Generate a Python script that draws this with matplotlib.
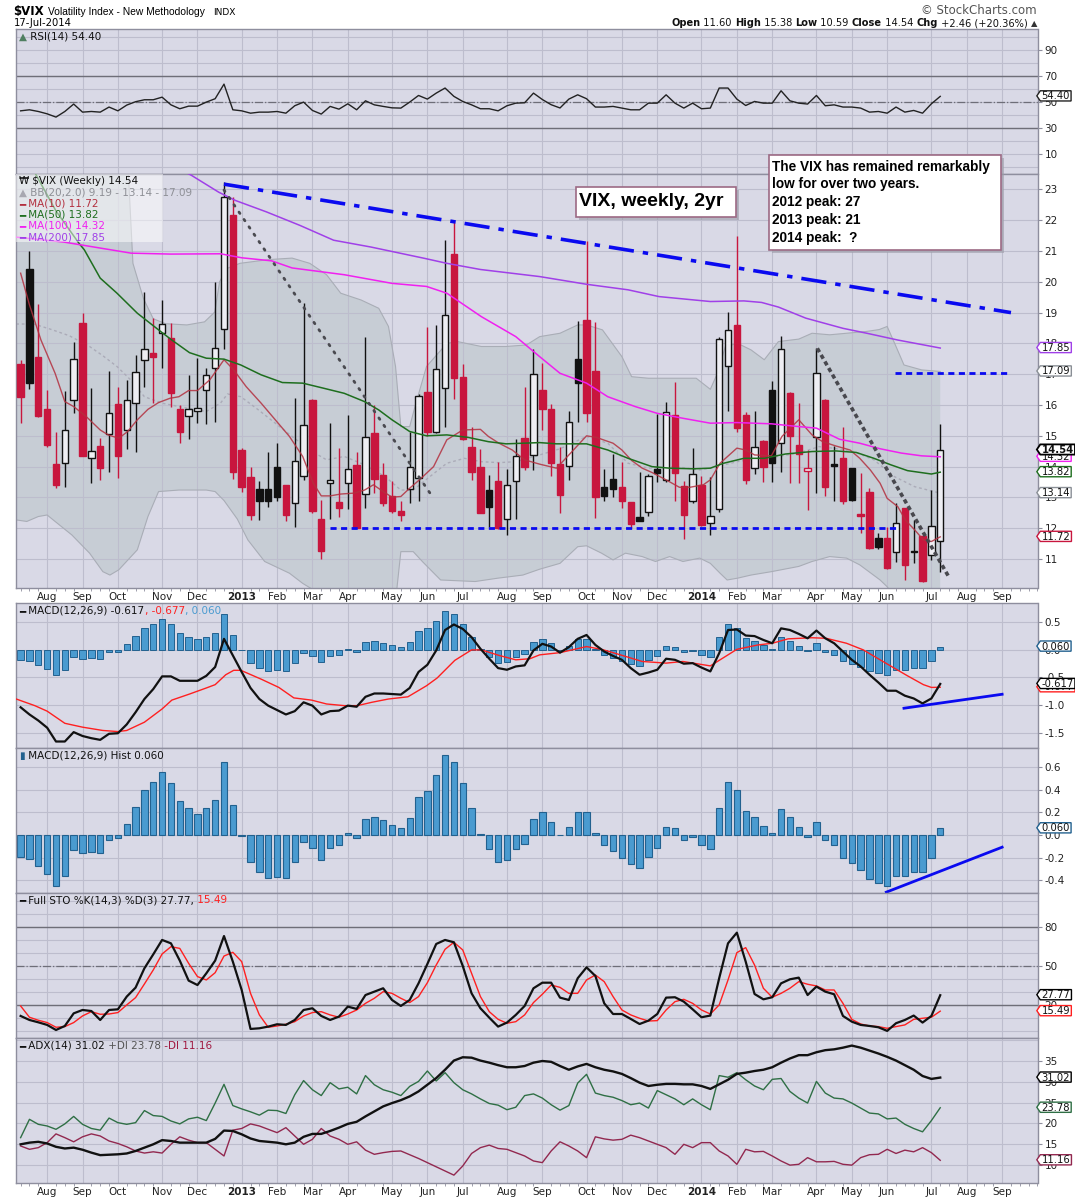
import numpy as np
import pandas as pd
import matplotlib
matplotlib.use("Agg")
import matplotlib.pyplot as plt
from matplotlib.patches import Rectangle
from matplotlib.path import Path

plt.rcParams["font.family"] = ["DejaVu Sans"]
plt.rcParams["axes.unicode_minus"] = False

# weekly bars dated by monday, first visible bar = week of 16-Jul-2012
first_week = "2012-07-16"
axis_weeks = 116

vix_open = [17.32, 20.42, 17.55, 15.86, 14.08, 14.11, 16.15, 18.66, 14.27, 14.66,
            15.06, 16.04, 15.18, 16.05, 17.47, 17.68, 18.33, 18.17, 15.86, 15.65,
            15.80, 16.48, 17.19, 18.46, 22.16, 14.54, 13.66, 13.28, 13.28, 13.99,
            13.39, 12.81, 13.68, 16.17, 12.30, 13.46, 12.84, 13.46, 14.06, 13.10,
            15.10, 13.73, 13.05, 12.56, 13.27, 13.62, 16.42, 15.14, 16.55, 20.91,
            16.90, 14.65, 13.98, 13.24, 13.54, 12.29, 13.54, 14.92, 14.38, 16.49,
            15.86, 14.08, 14.02, 17.50, 18.76, 17.11, 13.33, 13.61, 13.33, 12.84,
            12.38, 12.54, 13.92, 13.57, 15.66, 13.37, 12.87, 13.41, 12.16, 12.62,
            17.28, 18.60, 15.66, 13.95, 14.84, 16.49, 14.76, 16.40, 14.71, 13.87,
            14.95, 16.17, 14.08, 14.27, 13.95, 12.45, 13.17, 11.68, 11.68, 11.22,
            12.65, 11.27, 11.75, 11.13, 11.60]
vix_high = [17.47, 21.00, 19.28, 16.49, 15.14, 16.46, 18.05, 19.00, 16.56, 14.92,
            17.12, 16.58, 16.82, 17.62, 19.66, 18.84, 19.41, 18.66, 16.00, 16.98,
            17.52, 17.19, 19.98, 23.24, 22.75, 14.60, 14.00, 13.52, 14.46, 14.78,
            13.41, 16.24, 19.31, 16.20, 12.92, 15.41, 14.60, 15.66, 14.49, 18.20,
            16.00, 14.11, 13.54, 12.87, 15.14, 16.36, 18.53, 18.60, 21.35, 21.94,
            17.34, 15.30, 14.58, 13.73, 14.14, 13.93, 14.90, 16.57, 17.82, 17.36,
            16.04, 14.65, 15.81, 18.73, 21.34, 18.71, 13.92, 14.41, 14.14, 12.86,
            13.81, 13.76, 15.71, 16.09, 16.74, 13.54, 14.60, 13.68, 13.66, 18.20,
            19.03, 21.48, 15.77, 15.81, 14.86, 16.78, 18.24, 16.42, 16.06, 14.54,
            17.84, 16.20, 14.67, 15.30, 13.97, 13.79, 13.30, 11.86, 12.05, 12.81,
            12.67, 12.27, 11.77, 13.24, 15.38]
vix_low = [15.43, 16.51, 15.60, 14.65, 13.30, 13.35, 15.73, 14.33, 13.48, 13.57,
           13.84, 13.64, 14.58, 14.49, 16.60, 16.06, 17.19, 15.95, 14.76, 14.89,
           15.41, 15.39, 15.46, 17.82, 13.59, 13.19, 12.27, 12.27, 12.70, 12.87,
           12.22, 12.05, 13.55, 12.49, 11.00, 12.29, 12.38, 12.62, 12.00, 12.65,
           13.14, 12.73, 12.49, 12.25, 12.83, 12.87, 14.98, 15.08, 15.28, 16.19,
           14.85, 13.57, 12.49, 12.05, 11.98, 11.78, 12.29, 13.89, 13.89, 15.19,
           13.70, 12.51, 13.55, 15.46, 15.46, 12.32, 12.90, 13.03, 12.65, 12.00,
           12.22, 12.40, 13.50, 13.49, 12.87, 11.66, 12.81, 12.08, 11.78, 12.54,
           15.79, 15.11, 13.43, 13.75, 13.49, 13.49, 13.81, 13.46, 13.46, 12.60,
           13.14, 13.05, 12.87, 12.79, 12.87, 11.86, 11.33, 11.33, 10.68, 10.92,
           10.32, 10.86, 10.27, 10.97, 10.59]
vix_close = [16.27, 16.71, 15.63, 14.71, 13.41, 15.18, 17.49, 14.36, 14.50, 13.97,
             15.73, 14.33, 16.16, 17.06, 17.82, 17.57, 18.62, 16.40, 15.14, 15.86,
             15.91, 16.99, 17.84, 22.75, 13.81, 13.35, 12.43, 12.87, 12.88, 13.00,
             12.43, 14.19, 15.35, 12.57, 11.27, 13.57, 12.67, 13.92, 12.02, 14.95,
             13.59, 12.83, 12.57, 12.43, 13.98, 16.30, 15.14, 17.16, 18.92, 16.87,
             14.89, 13.81, 12.51, 12.70, 12.00, 13.41, 14.36, 13.98, 17.00, 15.86,
             14.13, 13.08, 15.46, 16.73, 15.73, 13.03, 13.06, 13.27, 12.87, 12.14,
             12.25, 13.68, 13.79, 15.76, 13.79, 12.43, 13.75, 12.11, 12.41, 18.14,
             18.44, 15.27, 13.55, 14.65, 13.98, 14.11, 17.82, 14.98, 14.40, 13.95,
             17.03, 13.35, 14.02, 12.90, 12.92, 12.41, 11.35, 11.38, 10.70, 12.16,
             10.81, 11.24, 10.29, 12.08, 14.54]

# overlays as (week, value) points
ma10_weeks = [0, 1, 2.3, 3.9, 5, 6, 7.4, 9, 9.9, 11.1, 12.1, 13.2, 14.4, 15.6, 16.9, 17.9, 19, 20, 21.4, 23,
              24.1, 25.5, 27.2, 28.8, 30.4, 31.9, 33.1, 34, 35, 36.2, 37.7, 38.9, 39.9, 41, 42, 43, 44, 45.1,
              46.7, 48.2, 50, 52, 52.9, 54.1, 55.6, 57, 58.7, 60.6, 62.2, 64, 65.1, 67, 68, 69.1, 70.3, 71.4,
              73, 74.5, 75.7, 77.2, 78, 79.1, 81, 82, 83, 84.9, 86.1, 88, 89.5, 90.7, 92.2, 93.8, 94.9, 96.1,
              97.2, 98, 99.2, 100.1, 101.1, 102.1, 103, 104]
ma10_values = [20.28, 19.25, 18.11, 17.03, 16.11, 15.95, 15.63, 15.19, 15.03, 14.92, 15.14, 15.52, 15.86, 16.08,
               16.22, 16.27, 16.47, 16.47, 16.82, 17.47, 17.14, 16.60, 16.06, 15.52, 14.98, 14.33, 13.46, 13.05,
               13.05, 13.11, 13.14, 13.24, 13.41, 13.19, 13.01, 13.03, 13.30, 13.57, 14.00, 14.87, 15.19, 15.21,
               14.98, 14.76, 14.54, 14.22, 14.08, 13.95, 14.44, 15.00, 14.95, 14.76, 14.54, 14.20, 13.95, 13.81,
               13.57, 13.33, 13.33, 13.41, 13.57, 14.11, 14.60, 14.54, 14.38, 14.35, 14.98, 15.52, 15.03, 14.81,
               14.67, 14.54, 14.27, 13.89, 13.46, 12.97, 12.70, 12.25, 11.95, 11.62, 11.57, 11.72]
ma50_weeks = [1.5, 4, 6.6, 7.2, 9, 10.9, 13.2, 15.6, 17.1, 19.1, 21, 23, 24.9, 27.2, 29.6, 31.9, 34.2, 36.6,
              38.9, 40.5, 42, 44, 45.9, 48.2, 50.6, 52.9, 54.9, 58.7, 60.6, 64, 66.4, 68.7, 71.4, 73.4, 76.1,
              78, 79.5, 81.8, 84.1, 86.5, 89.5, 92.2, 94.5, 96.5, 98.4, 100.3, 103, 104]
ma50_values = [23.6, 22.3, 21.25, 21.04, 20.12, 19.63, 18.98, 18.44, 18.11, 17.70, 17.52, 17.49, 17.30, 16.98,
               16.73, 16.71, 16.55, 16.38, 16.11, 15.84, 15.52, 15.14, 15.00, 15.03, 14.95, 14.81, 14.74, 14.78,
               14.74, 14.74, 14.54, 14.27, 14.00, 13.95, 13.93, 13.95, 14.11, 14.27, 14.27, 14.41, 14.49, 14.51,
               14.46, 14.27, 14.06, 13.87, 13.76, 13.82]
ma100_weeks = [-0.5, 4.9, 12.5, 17, 22.6, 25, 28.4, 30.7, 36.6, 42, 45.9, 48.2, 52.1, 56, 58.7, 61, 64, 66.4,
               69.5, 72, 74.9, 78, 81, 84.9, 88, 90, 92.6, 94.9, 97.2, 99.6, 101.9, 104]
ma100_values = [21.45, 21.29, 20.93, 20.9, 20.91, 20.78, 20.68, 20.45, 20.23, 19.95, 19.85, 19.63, 18.87, 18.22,
                17.57, 17.03, 16.71, 16.27, 15.95, 15.73, 15.57, 15.41, 15.43, 15.39, 15.30, 15.25, 14.89, 14.76,
                14.58, 14.44, 14.35, 14.32]
ma200_weeks = [18.0, 19.3, 22.4, 24.3, 27.8, 31.6, 35.4, 39.6, 45.7, 48.2, 52, 58.7, 64, 68.7, 72.2, 78, 81.8,
               83.8, 85.7, 88.8, 93, 95.7, 99.2, 104]
ma200_values = [23.65, 23.46, 22.91, 22.64, 22.27, 21.83, 21.35, 21.13, 20.76, 20.60, 20.40, 20.17, 19.92, 19.74,
                19.52, 19.36, 19.38, 19.33, 19.18, 18.82, 18.49, 18.33, 18.11, 17.85]
bb_up_weeks = [-0.5, 11.8, 12.2, 12.7, 13.9, 15.0, 16.4, 18.8, 20.8, 21.96, 22.5, 23.3, 24.8, 28, 30.7, 32.7,
               34.6, 36.2, 38.5, 40.5, 41.6, 42.4, 43, 44, 44.6, 45.9, 48.2, 49.4, 52.1, 54.9, 57.2, 58.7, 61,
               63, 64, 65.8, 68, 69.1, 71, 76.4, 78, 78.8, 79.7, 81.1, 82.6, 84.1, 85.7, 88, 89.5, 91.5, 93.4,
               95.7, 97.1, 98, 99, 99.9, 101.9, 104]
bb_up_values = [24.6, 24.6, 23.45, 20.6, 19.45, 18.8, 18.64, 18.6, 18.7, 19.02, 20.0, 20.43, 20.6, 20.72, 20.77,
                20.6, 20.23, 19.63, 19.41, 19.14, 18.55, 17.25, 15.3, 15.3, 15.95, 17.25, 18.0, 18.06, 17.9, 17.9,
                17.95, 18.22, 18.33, 18.6, 18.6, 18.44, 17.57, 16.92, 16.87, 16.87, 16.51, 17.03, 17.9, 18.0,
                17.79, 17.47, 18.06, 18.14, 18.33, 18.28, 18.33, 18.39, 18.45, 18.55, 17.9, 17.3, 17.14, 17.09]
bb_lo_weeks = [-0.5, 0.7, 2, 3, 3.9, 5.8, 7.8, 9.3, 10.1, 11.1, 13.2, 14.4, 15.6, 17.9, 21, 22, 23, 24.5, 25.7,
               27.6, 30.4, 31.9, 33.1, 35, 38, 41, 42.5, 43, 44.4, 45.5, 47.5, 51.4, 54, 56.8, 58.7, 61, 63, 64,
               65.7, 67, 68.4, 70.3, 71.8, 73.4, 74.9, 76.8, 78, 79.1, 79.9, 81.1, 82.6, 84.9, 88, 89.5, 91.5,
               93.4, 94.9, 97.2, 98, 99, 101, 104]
bb_lo_values = [12.27, 12.22, 12.38, 12.43, 12.22, 11.78, 11.19, 10.59, 10.48, 10.65, 11.30, 12.38, 13.19, 13.24,
                13.24, 13.19, 12.9, 12.3, 11.62, 10.92, 10.54, 10.21, 10.0, 9.6, 9.4, 9.5, 9.9, 11.24, 11.24,
                10.9, 10.32, 10.27, 10.38, 10.48, 10.67, 10.86, 11.40, 11.43, 11.19, 10.97, 11.19, 11.08, 10.92,
                11.08, 10.92, 11.03, 10.86, 10.54, 10.32, 10.38, 10.48, 10.59, 10.76, 10.92, 11.08, 11.03, 10.81,
                10.32, 10.10, 9.7, 9.4, 9.19]
bb_mid_weeks = [-0.5, 1.5, 3.5, 5.5, 7.8, 9.3, 10.9, 12.5, 14, 16, 17.9, 19.5, 21, 22.6, 23.4, 24.9, 26.9, 28.8,
                30.7, 32.7, 34.6, 36.6, 38.9, 41.2, 43, 44.4, 46.3, 48.2, 50.2, 52.1, 54.1, 56, 58.7, 61, 64,
                66.4, 68.7, 71, 74.1, 76.8, 78.8, 81, 83.4, 85.7, 88, 90.3, 91.9, 94.2, 96.5, 98.8, 101.1, 104]
bb_mid_values = [18.63, 18.63, 18.45, 18.25, 17.9, 17.6, 17.25, 16.8, 16.27, 16.06, 15.95, 15.86, 15.79, 16.06,
                 16.36, 16.27, 15.84, 15.41, 14.98, 14.54, 14.22, 14.33, 14.06, 13.68, 13.24, 13.24, 13.68, 14.11,
                 14.27, 14.16, 14.13, 14.16, 14.38, 14.58, 14.98, 14.76, 14.11, 13.95, 14.0, 13.89, 14.0, 14.16,
                 14.27, 14.33, 14.44, 14.65, 14.60, 14.49, 14.22, 13.68, 13.35, 13.14]
bb_lower_last = 9.19

rsi = [43.3, 44.1, 42.8, 41.0, 38.5, 42.8, 48.5, 42.3, 42.8, 42.3,
       46.2, 43.3, 47.7, 50.3, 51.8, 51.8, 53.8, 47.9, 44.9, 46.9,
       46.9, 50.0, 52.6, 63.8, 44.1, 43.3, 41.5, 42.3, 42.3, 42.8,
       41.5, 47.2, 50.0, 43.6, 40.8, 46.7, 44.6, 48.7, 44.1, 51.0,
       47.9, 46.7, 45.6, 45.4, 50.0, 55.1, 52.3, 56.9, 60.8, 54.4,
       50.5, 47.9, 44.9, 44.9, 43.3, 47.2, 49.2, 49.5, 56.9, 52.0,
       48.0, 45.5, 52.3, 55.6, 52.6, 46.2, 46.2, 46.7, 45.4, 44.1,
       44.1, 49.2, 49.2, 55.6, 49.2, 45.4, 49.2, 44.9, 45.4, 60.8,
       60.8, 52.3, 47.4, 50.5, 49.2, 49.2, 58.7, 51.0, 49.2, 48.5,
       55.1, 47.2, 47.9, 46.2, 46.2, 45.4, 42.3, 42.8, 41.5, 46.2,
       42.3, 43.6, 41.5, 48.7, 54.40]

macd = [-1.04, -1.17, -1.28, -1.41, -1.66, -1.66, -1.49, -1.56, -1.60, -1.63,
        -1.52, -1.51, -1.35, -1.13, -0.89, -0.71, -0.48, -0.48, -0.56, -0.56,
        -0.56, -0.47, -0.31, 0.20, -0.10, -0.40, -0.69, -0.89, -1.01, -1.09,
        -1.17, -1.11, -0.95, -1.01, -1.17, -1.11, -1.10, -1.01, -1.03, -0.85,
        -0.79, -0.79, -0.80, -0.81, -0.69, -0.40, -0.27, -0.01, 0.36, 0.46,
        0.38, 0.23, 0.02, -0.16, -0.33, -0.36, -0.30, -0.28, -0.01, 0.11,
        0.06, -0.05, 0.05, 0.20, 0.27, 0.09, -0.03, -0.11, -0.18, -0.33,
        -0.45, -0.41, -0.36, -0.16, -0.18, -0.25, -0.24, -0.32, -0.39, -0.06,
        0.36, 0.37, 0.26, 0.25, 0.18, 0.12, 0.39, 0.36, 0.29, 0.21,
        0.35, 0.21, 0.12, -0.03, -0.18, -0.30, -0.45, -0.59, -0.74, -0.74,
        -0.83, -0.88, -0.97, -0.88, -0.617]
signal_weeks = [-0.5, 1.6, 3, 5, 7, 9.3, 11, 12, 14, 16, 17.1, 19.1, 21, 22, 23.2, 24.1, 24.9, 27.2, 29.2, 30.9,
                32.9, 34.6, 36.6, 38.1, 39.7, 41.6, 43.8, 45.9, 47.1, 49.1, 51, 52.1, 54.1, 56, 57.6, 58.7, 61,
                64, 65.7, 67.2, 70.3, 73, 74.9, 78, 79.1, 81, 83.4, 85, 86.8, 89.5, 91.1, 93.4, 95.3, 97.2,
                98.8, 100.3, 102.1, 103, 104]
signal_values = [-0.89, -1.01, -1.11, -1.33, -1.40, -1.46, -1.48, -1.46, -1.31, -1.07, -0.91, -0.80, -0.69,
                 -0.63, -0.45, -0.37, -0.37, -0.53, -0.68, -0.87, -0.91, -0.98, -1.01, -1.01, -0.95, -0.89,
                 -0.85, -0.65, -0.51, -0.19, 0.0, 0.0, -0.10, -0.18, -0.16, -0.09, -0.05, 0.06, 0.01, -0.06,
                 -0.21, -0.24, -0.21, -0.29, -0.18, 0.01, 0.09, 0.12, 0.20, 0.22, 0.21, 0.12, 0.0, -0.18,
                 -0.33, -0.47, -0.63, -0.68, -0.677]
macd_hist = [-0.19, -0.21, -0.27, -0.34, -0.45, -0.36, -0.13, -0.16, -0.15, -0.16,
             -0.04, -0.03, 0.10, 0.25, 0.40, 0.47, 0.56, 0.46, 0.30, 0.24,
             0.19, 0.24, 0.31, 0.65, 0.27, -0.005, -0.24, -0.33, -0.38, -0.37,
             -0.38, -0.24, -0.06, -0.11, -0.22, -0.11, -0.09, 0.015, -0.03, 0.14,
             0.16, 0.13, 0.09, 0.06, 0.15, 0.34, 0.39, 0.53, 0.71, 0.65,
             0.46, 0.24, 0.01, -0.12, -0.24, -0.22, -0.12, -0.08, 0.14, 0.20,
             0.12, 0.005, 0.07, 0.20, 0.20, 0.02, -0.09, -0.14, -0.20, -0.26,
             -0.29, -0.19, -0.11, 0.07, 0.06, -0.04, -0.015, -0.09, -0.12, 0.24,
             0.47, 0.40, 0.21, 0.16, 0.08, 0.02, 0.23, 0.16, 0.07, -0.02,
             0.12, -0.04, -0.09, -0.20, -0.25, -0.31, -0.39, -0.42, -0.45, -0.36,
             -0.36, -0.33, -0.33, -0.20, 0.060]

sto_k = [11.8, 8.7, 6.9, 4.9, 1.0, 4.1, 13.8, 16.4, 15.6, 8.7,
         16.4, 16.9, 26.7, 33.6, 48.5, 59.2, 70.3, 67.7, 54.4, 39.0,
         35.6, 44.6, 54.4, 73.3, 53.6, 31.8, 1.8, 2.3, 3.6, 5.4,
         4.9, 8.7, 16.4, 17.7, 11.8, 8.7, 11.3, 19.0, 17.2, 27.9,
         30.5, 33.1, 24.1, 19.5, 24.1, 36.9, 51.8, 67.2, 70.3, 68.5,
         50.3, 29.2, 17.7, 10.5, 3.6, 6.7, 12.6, 19.5, 33.1, 37.4,
         37.4, 25.9, 24.1, 40.8, 49.2, 42.6, 21.5, 13.3, 13.3, 9.5,
         5.6, 8.2, 13.3, 25.9, 26.2, 22.8, 16.9, 10.8, 12.1, 40.8,
         67.7, 75.9, 53.6, 28.7, 24.6, 26.2, 36.9, 40.0, 41.3, 27.9,
         34.4, 30.5, 28.5, 11.8, 7.4, 4.9, 4.1, 3.1, 0.3, 6.2,
         8.7, 12.1, 6.7, 11.8, 27.77]
sto_d = [19.5, 10.8, 8.5, 6.7, 3.1, 3.6, 6.7, 11.8, 15.1, 13.1,
         13.3, 14.4, 20.3, 25.9, 36.4, 47.2, 59.5, 65.1, 63.8, 52.3,
         42.1, 39.5, 45.1, 57.9, 60.8, 53.6, 29.2, 12.6, 3.1, 4.1,
         5.4, 7.4, 11.8, 14.4, 15.1, 12.6, 10.8, 13.3, 16.4, 21.5,
         25.4, 30.5, 29.2, 25.4, 22.1, 26.7, 37.4, 51.0, 63.1, 68.5,
         62.6, 44.6, 26.7, 15.1, 9.2, 6.2, 7.4, 12.6, 22.1, 28.5,
         35.6, 33.8, 29.2, 29.2, 39.5, 43.3, 38.2, 26.7, 16.4, 12.6,
         10.0, 7.9, 8.2, 16.4, 22.8, 24.6, 21.5, 16.4, 13.3, 20.3,
         39.5, 60.5, 64.4, 51.0, 33.1, 26.2, 29.2, 33.1, 38.2, 36.2,
         34.9, 31.8, 31.8, 21.5, 9.2, 5.6, 4.1, 3.6, 2.3, 3.6,
         4.9, 9.2, 10.0, 10.8, 15.49]

adx = [15.0, 15.4, 15.6, 15.2, 14.4, 14.0, 14.2, 13.7, 13.0, 12.4,
       12.5, 12.6, 12.8, 13.4, 14.2, 15.0, 16.0, 15.8, 15.4, 15.4,
       15.4, 15.4, 16.3, 18.3, 18.2, 17.4, 16.4, 15.8, 15.6, 15.4,
       15.0, 15.4, 16.8, 17.5, 17.5, 18.2, 19.0, 19.9, 20.4, 21.7,
       22.9, 24.1, 24.9, 25.6, 26.5, 27.7, 29.3, 30.9, 32.9, 35.1,
       35.9, 35.8, 35.1, 34.6, 34.0, 33.5, 33.5, 33.8, 34.6, 35.0,
       34.8, 33.8, 32.9, 33.7, 34.3, 33.5, 32.9, 32.5, 31.9, 30.9,
       29.8, 29.0, 29.3, 29.5, 29.5, 29.4, 29.4, 29.0, 28.3, 29.4,
       30.5, 31.9, 32.2, 32.6, 32.9, 33.5, 34.6, 35.6, 36.4, 36.4,
       37.1, 37.6, 37.8, 38.2, 38.7, 38.2, 37.5, 36.8, 36.0, 35.1,
       34.0, 32.9, 31.4, 30.7, 31.02]
plus_di = [16.6, 21.0, 19.8, 19.4, 18.6, 19.9, 21.7, 19.8, 18.8, 18.4,
           21.3, 20.2, 19.8, 20.2, 23.1, 21.9, 21.7, 20.6, 19.9, 21.1,
           21.5, 20.7, 24.9, 29.4, 24.3, 23.5, 22.8, 22.0, 23.2, 23.1,
           22.4, 26.9, 30.3, 28.1, 26.7, 29.8, 28.3, 28.7, 27.1, 31.5,
           29.3, 28.1, 27.5, 26.7, 28.9, 30.1, 32.6, 30.2, 32.2, 29.8,
           28.1, 27.1, 25.9, 24.8, 24.4, 23.3, 23.9, 26.7, 27.1, 26.1,
           24.5, 23.2, 24.3, 29.7, 31.8, 27.3, 26.7, 26.3, 25.5, 24.5,
           24.9, 23.7, 27.9, 26.9, 25.9, 24.5, 25.9, 24.5, 23.3, 31.5,
           31.1, 32.2, 30.5, 29.0, 28.1, 30.6, 30.8, 27.7, 26.1, 24.9,
           30.1, 27.3, 26.1, 25.9, 24.9, 23.7, 22.5, 22.3, 21.1, 21.3,
           19.8, 18.8, 18.0, 20.7, 23.78]
minus_di = [14.6, 13.8, 14.2, 15.4, 17.5, 16.6, 15.6, 16.8, 17.5, 17.0,
            15.8, 15.2, 14.4, 13.4, 12.9, 13.2, 12.9, 15.0, 16.8, 16.0,
            15.4, 15.4, 13.8, 12.2, 18.4, 18.8, 19.9, 19.4, 18.6, 17.8,
            19.0, 17.0, 15.0, 16.2, 18.8, 17.0, 16.2, 15.0, 15.6, 13.6,
            12.6, 13.0, 13.3, 13.4, 12.5, 11.6, 10.6, 9.6, 8.6, 7.6,
            9.8, 12.8, 14.2, 14.8, 14.0, 13.8, 13.0, 12.2, 11.0, 10.6,
            13.4, 15.6, 14.6, 13.4, 11.8, 16.8, 16.3, 16.0, 16.2, 17.2,
            16.6, 15.8, 15.0, 14.2, 12.6, 15.0, 14.2, 15.4, 15.4, 13.4,
            12.2, 10.2, 13.8, 13.2, 13.3, 12.2, 11.0, 10.0, 10.2, 11.8,
            10.8, 10.8, 10.9, 10.2, 10.0, 11.8, 12.5, 12.6, 13.8, 12.8,
            13.6, 13.2, 14.2, 13.0, 11.16]

# hand drawn annotations on the chart
resist_weeks, resist_values = [23, 112], [23.17, 19.0]
fall_weeks, fall_values = [23, 46.7], [22.98, 12.97]
fall2_weeks, fall2_values = [90.1, 104.95], [17.84, 10.43]
floor_weeks, floor_value = [35, 99], 12.0
ceiling_weeks, ceiling_value = [98.9, 111.9], 17.05
macd_div_weeks, macd_div_values = [99.9, 111.0], [-1.057, -0.804]
hist_div_weeks, hist_div_values = [97.9, 111.0], [-0.505, -0.107]

header_quote = [("Open", "11.60"), ("High", "15.38"), ("Low", "10.59"),
                ("Close", "14.54"), ("Chg", "+2.46 (+20.36%)")]
comment_lines = ["The VIX has remained remarkably", "low for over two years.",
                 "2012 peak: 27", "2013 peak: 21", "2014 peak:  ?"]

# colours
BG = "#D9D9E6"
GRID = "#BDBDCD"
SPINE = "#8E8E9E"
LEVEL = "#6E6E78"
RED = "#C8163E"
HOLLOW = "#EEEEF3"
BB_FILL = "#C7CDD5"
BB_EDGE = "#A9ADB6"
C_MA10 = "#B3303F"
C_MA50 = "#1E6E1E"
C_MA100 = "#F020F0"
C_MA200 = "#A040E8"
C_HIST = "#4A9BD0"
C_HIST_E = "#22618F"
C_PDI = "#2F6F45"
C_MDI = "#92284F"
BLUE = "#0A0AF0"

W_PX, H_PX = 1075, 1200
LEFT_PX, RIGHT_PX = 16.2, 1037.5

weeks = pd.date_range(first_week, periods=axis_weeks, freq="7D")
month_idx = [i for i in range(1, len(weeks)) if weeks[i].month != weeks[i - 1].month]
month_lbl = [str(weeks[i].year) if weeks[i].month == 1 else weeks[i].strftime("%b") for i in month_idx]
x = np.arange(len(vix_close))

fig = plt.figure(figsize=(W_PX / 100, H_PX / 100), dpi=100)
fig.patch.set_facecolor("white")


def add_panel(top, bottom, yticks, ylabels, ylim, minor=None, show_months=False):
    ax = fig.add_axes([LEFT_PX / W_PX, 1 - bottom / H_PX,
                       (RIGHT_PX - LEFT_PX) / W_PX, (bottom - top) / H_PX])
    ax.set_facecolor(BG)
    ax.set_axisbelow(True)
    ax.set_xlim(-0.5, axis_weeks - 1)
    ax.set_ylim(*ylim)
    for s in ax.spines.values():
        s.set_color(SPINE)
        s.set_linewidth(1)
    ax.yaxis.tick_right()
    ax.set_yticks(yticks)
    ax.set_yticklabels(ylabels)
    if minor is not None:
        ax.set_yticks(minor, minor=True)
    ax.set_xticks(month_idx)
    ax.set_xticklabels(month_lbl)
    ax.set_xticks(np.arange(0, axis_weeks), minor=True)
    ax.grid(axis="x", which="major", color=GRID, lw=0.8)
    ax.grid(axis="y", which="both", color=GRID, lw=0.8)
    ax.tick_params(axis="y", which="major", length=3, labelsize=7.5, pad=2,
                   colors="#222222", color=SPINE)
    ax.tick_params(axis="y", which="minor", length=0)
    ax.tick_params(axis="x", which="major", length=0, labelsize=7.5, pad=3,
                   colors="#222222", labelbottom=show_months)
    ax.tick_params(axis="x", which="minor", length=2.5 if show_months else 0, color=SPINE)
    if show_months:
        for t in ax.get_xticklabels():
            if t.get_text().isdigit():
                t.set_fontweight("bold")
    return ax


def tag_box(x0, y0, width, height, mutation_size):
    # value flag with a small left point, kept tight around the digits
    pad = 0.12 * mutation_size
    ym = y0 + height * 0.55
    half = height * 0.45 + pad * 0.5
    xa, xb = x0 - pad, x0 + width + pad
    ya, yb = ym - half, ym + half
    d = (yb - ya) * 0.34
    verts = [(xa, ya), (xb, ya), (xb, yb), (xa, yb), (xa - d, ym), (xa, ya), (xa, ya)]
    codes = [Path.MOVETO] + [Path.LINETO] * 5 + [Path.CLOSEPOLY]
    return Path(verts, codes)


def tag(ax, value, ec, bold=False, fmt="{:.2f}", z=10):
    ax.annotate(fmt.format(value), xy=(1, value), xycoords=("axes fraction", "data"),
                xytext=(4, 0), textcoords="offset pixels", ha="left", va="center",
                fontsize=7.2, fontweight="bold" if bold else "normal", color="#111111",
                annotation_clip=False, zorder=z,
                bbox=dict(boxstyle=tag_box, fc="white", ec=ec, lw=1.3 if bold else 1.0))


def legend(ax, dy_px, parts, dx_px=14, size=7.5):
    t = None
    for s, col in parts:
        if t is None:
            t = ax.annotate(s, xy=(0, 1), xycoords="axes fraction", xytext=(dx_px, -dy_px),
                            textcoords="offset pixels", ha="left", va="center", color=col,
                            fontsize=size, zorder=9, annotation_clip=False)
        else:
            t = ax.annotate(s, xy=(1, 0), xycoords=t, ha="left", va="bottom", color=col,
                            fontsize=size, zorder=9, annotation_clip=False)
    return t


# ---------------- RSI
ax_rsi = add_panel(29.3, 174, [10, 30, 50, 70, 90], ["10", "30", "50", "70", "90"], (-5.2, 105.9),
                   minor=[0, 20, 40, 60, 80, 100])
ax_rsi.axhline(70, color=LEVEL, lw=1)
ax_rsi.axhline(30, color=LEVEL, lw=1)
ax_rsi.axhline(50, color=LEVEL, lw=0.9, ls="-.")
ax_rsi.plot(x, rsi, color="#222222", lw=1.0, zorder=3)
legend(ax_rsi, 7, [("▲", "#4F7F60"), (" RSI(14) {:.2f}".format(rsi[-1]), "#111111")], dx_px=3)
tag(ax_rsi, rsi[-1], "#222222")

# ---------------- price
ax_p = add_panel(174, 588.3, list(range(11, 24)), [str(v) for v in range(11, 24)], (10.05, 23.5),
                 show_months=True)
ax_p.fill(np.r_[bb_up_weeks, bb_lo_weeks[::-1]], np.r_[bb_up_values, bb_lo_values[::-1]],
          color=BB_FILL, lw=0, zorder=0.3)
ax_p.plot(bb_up_weeks, bb_up_values, color=BB_EDGE, lw=0.8, zorder=1)
ax_p.plot(bb_lo_weeks, bb_lo_values, color=BB_EDGE, lw=0.8, zorder=1)
ax_p.plot(bb_mid_weeks, bb_mid_values, color="#ABABB8", lw=1.0, ls=(0, (2, 2)), zorder=1)

o, h, l, c = map(np.array, (vix_open, vix_high, vix_low, vix_close))
prev = np.r_[o[0], c[:-1]]
edge = np.where(c < prev, RED, "#111111")
face = np.where(c < o, edge, HOLLOW)
ax_p.vlines(x, l, h, colors=edge, lw=1.0, zorder=3)
ax_p.bar(x, np.maximum(np.abs(c - o), 0.03), bottom=np.minimum(o, c), width=0.72,
         color=face, edgecolor=edge, linewidth=1.0, zorder=4)

ax_p.plot(ma10_weeks, ma10_values, color=C_MA10, lw=1.0, alpha=0.85, zorder=5)
ax_p.plot(ma50_weeks, ma50_values, color=C_MA50, lw=1.1, zorder=5)
ax_p.plot(ma100_weeks, ma100_values, color=C_MA100, lw=1.1, zorder=5)
ax_p.plot(ma200_weeks, ma200_values, color=C_MA200, lw=1.1, zorder=5)

ax_p.plot(resist_weeks, resist_values, color=BLUE, lw=2.6, ls=(0, (7, 2.5, 1.5, 2.5)), zorder=6)
ax_p.plot(fall_weeks, fall_values, color="#4A4A50", lw=2.0, ls=(0, (0.6, 2.6)),
          dash_capstyle="round", zorder=6)
ax_p.plot(fall2_weeks, fall2_values, color="#48484E", lw=2.6, ls=(0, (1.2, 0.9)), zorder=6)
ax_p.hlines(floor_value, *floor_weeks, color=BLUE, lw=2.0, ls=(0, (2.2, 1.6)), zorder=6)
ax_p.hlines(ceiling_value, *ceiling_weeks, color=BLUE, lw=2.0, ls=(0, (2.2, 1.6)), zorder=6)

ax_p.add_patch(Rectangle((0, 1 - 68 / 414.3), 147 / 1021.3, 68 / 414.3, transform=ax_p.transAxes,
                         fc="white", alpha=0.5, lw=0, zorder=7))
legend(ax_p, 7, [("₩", "#111111"), (" $VIX (Weekly) {:.2f}".format(c[-1]), "#111111")], dx_px=3)
legend(ax_p, 18.3, [("▲", "#A8A8B0"),
                    (" BB(20,2.0) {:.2f} - {:.2f} - {:.2f}".format(bb_lower_last, bb_mid_values[-1],
                                                                  bb_up_values[-1]), "#8E9096")], dx_px=3)
for k, (nm, col, val) in enumerate([("MA(10)", C_MA10, ma10_values[-1]), ("MA(50)", C_MA50, ma50_values[-1]),
                                    ("MA(100)", C_MA100, ma100_values[-1]),
                                    ("MA(200)", C_MA200, ma200_values[-1])]):
    legend(ax_p, 29.7 + 11.1 * k, [("━", col), (" {} {:.2f}".format(nm, val), col)], dx_px=3)

tag(ax_p, ma200_values[-1], C_MA200, z=10)
tag(ax_p, bb_up_values[-1], "#8A8F96", z=10)
tag(ax_p, ma100_values[-1], C_MA100, z=10)
tag(ax_p, c[-1], "#000000", bold=True, z=11)
tag(ax_p, ma50_values[-1], C_MA50, z=10)
tag(ax_p, bb_mid_values[-1], "#8A8F96", z=10)
tag(ax_p, ma10_values[-1], RED, z=10)

# ---------------- MACD
ax_m = add_panel(603.3, 748.3, [-1.5, -1.0, -0.5, 0.0, 0.5], ["-1.5", "-1.0", "-0.5", "0.0", "0.5"],
                 (-1.783, 0.844))
ax_m.bar(x, macd_hist, width=0.72, color=C_HIST, edgecolor=C_HIST_E, lw=0.7, zorder=2)
ax_m.plot(signal_weeks, signal_values, color="#FF2020", lw=1.0, zorder=3)
ax_m.plot(x, macd, color="#111111", lw=1.6, zorder=4)
ax_m.plot(macd_div_weeks, macd_div_values, color=BLUE, lw=2.0, zorder=5)
legend(ax_m, 7.5, [("━", "#111111"), (" MACD(12,26,9) {:.3f}".format(macd[-1]), "#111111"),
                   (", {:.3f}".format(signal_values[-1]), "#FF2020"),
                   (", {:.3f}".format(macd_hist[-1]), C_HIST)], dx_px=3)
tag(ax_m, macd_hist[-1], C_HIST_E, fmt="{:.3f}")
tag(ax_m, signal_values[-1], "#FF2020", fmt="{:.3f}")
tag(ax_m, macd[-1], "#000000", fmt="{:.3f}", z=11)

# ---------------- MACD histogram
ax_h = add_panel(748.3, 893.3, [-0.4, -0.2, 0.0, 0.2, 0.4, 0.6],
                 ["-0.4", "-0.2", "0.0", "0.2", "0.4", "0.6"], (-0.515, 0.768))
ax_h.bar(x, macd_hist, width=0.72, color=C_HIST, edgecolor=C_HIST_E, lw=0.8, zorder=2)
ax_h.plot(hist_div_weeks, hist_div_values, color=BLUE, lw=2.0, zorder=5)
legend(ax_h, 7.5, [("▮", C_HIST_E), (" MACD(12,26,9) Hist {:.3f}".format(macd_hist[-1]), "#111111")],
       dx_px=3)
tag(ax_h, macd_hist[-1], C_HIST_E, fmt="{:.3f}")

# ---------------- slow stochastic
ax_s = add_panel(893.3, 1038.3, [20, 50, 80], ["20", "50", "80"], (-5.4, 106.2),
                 minor=[0, 10, 30, 40, 60, 70, 90, 100])
ax_s.axhline(80, color=LEVEL, lw=1)
ax_s.axhline(20, color=LEVEL, lw=1)
ax_s.axhline(50, color=LEVEL, lw=0.9, ls="-.")
ax_s.plot(x, sto_d, color="#FF2020", lw=1.0, zorder=3)
ax_s.plot(x, sto_k, color="#111111", lw=1.6, zorder=4)
legend(ax_s, 7, [("━", "#111111"), (" Full STO %K(14,3) %D(3) {:.2f},".format(sto_k[-1]), "#111111"),
                 (" {:.2f}".format(sto_d[-1]), "#FF2020")], dx_px=3)
tag(ax_s, sto_k[-1], "#000000")
tag(ax_s, sto_d[-1], "#FF2020")

# ---------------- ADX
ax_a = add_panel(1038.3, 1183.3, [10, 15, 20, 25, 30, 35], ["10", "15", "20", "25", "30", "35"],
                 (5.64, 40.45), minor=[40], show_months=True)
ax_a.plot(x, plus_di, color=C_PDI, lw=1.0, zorder=3)
ax_a.plot(x, minus_di, color=C_MDI, lw=1.0, zorder=3)
ax_a.plot(x, adx, color="#111111", lw=1.7, zorder=4)
legend(ax_a, 7.5, [("━", "#111111"), (" ADX(14) {:.2f}".format(adx[-1]), "#111111"),
                   (" +DI {:.2f}".format(plus_di[-1]), "#555555"),
                   (" -DI {:.2f}".format(minus_di[-1]), "#A01840")], dx_px=3)
tag(ax_a, adx[-1], "#000000")
tag(ax_a, plus_di[-1], C_PDI)
tag(ax_a, minus_di[-1], C_MDI)

# ---------------- header and note boxes (figure pixel coords, origin top-left)
ov = fig.add_axes([0, 0, 1, 1])
ov.set_xlim(0, W_PX)
ov.set_ylim(H_PX, 0)
ov.axis("off")

ov.text(13.5, 15, "$VIX", fontsize=8.5, fontweight="bold", va="baseline")
ov.text(48.5, 15, "Volatility Index - New Methodology", fontsize=7.4, family="Liberation Sans",
        va="baseline")
ov.text(213, 15, "INDX", fontsize=6.5, va="baseline")
ov.text(13.5, 26, "17-Jul-2014", fontsize=7.2, va="baseline")
ov.text(1037, 14, "© StockCharts.com", fontsize=8.5, color="#555555", ha="right", va="baseline")

t = ov.annotate("▲", xy=(1037, 26.5), xycoords="data", ha="right", va="baseline", fontsize=6,
                color="#333333")
for lab, val in header_quote[::-1]:
    t = ov.annotate(" " + val + " ", xy=(0, 0), xycoords=t, ha="right", va="bottom",
                    fontsize=7.1, color="#111111")
    t = ov.annotate(lab, xy=(0, 0), xycoords=t, ha="right", va="bottom", fontsize=7.1,
                    fontweight="bold", color="#111111")


def note_box(x0, y0, x1, y1):
    ov.add_patch(Rectangle((x0 + 3, y0 + 3), x1 - x0, y1 - y0, fc="#9C9CA8", ec="none", alpha=0.6,
                           zorder=20))
    ov.add_patch(Rectangle((x0, y0), x1 - x0, y1 - y0, fc="white", ec="#9C6A84", lw=1.2, zorder=21))


note_box(576, 186.7, 736, 216.7)
ov.text(651, 202, "VIX, weekly, 2yr", fontsize=14, fontweight="bold", family="Liberation Sans",
        ha="center", va="center", zorder=22)

note_box(769, 155, 1000.5, 250)
ov.text(772, 159.5, "\n".join(comment_lines), fontsize=9.8, fontweight="bold", family="Liberation Sans",
        ha="left", va="top", linespacing=1.36, zorder=22)

fig.savefig("out.png", dpi=100, facecolor="white")
